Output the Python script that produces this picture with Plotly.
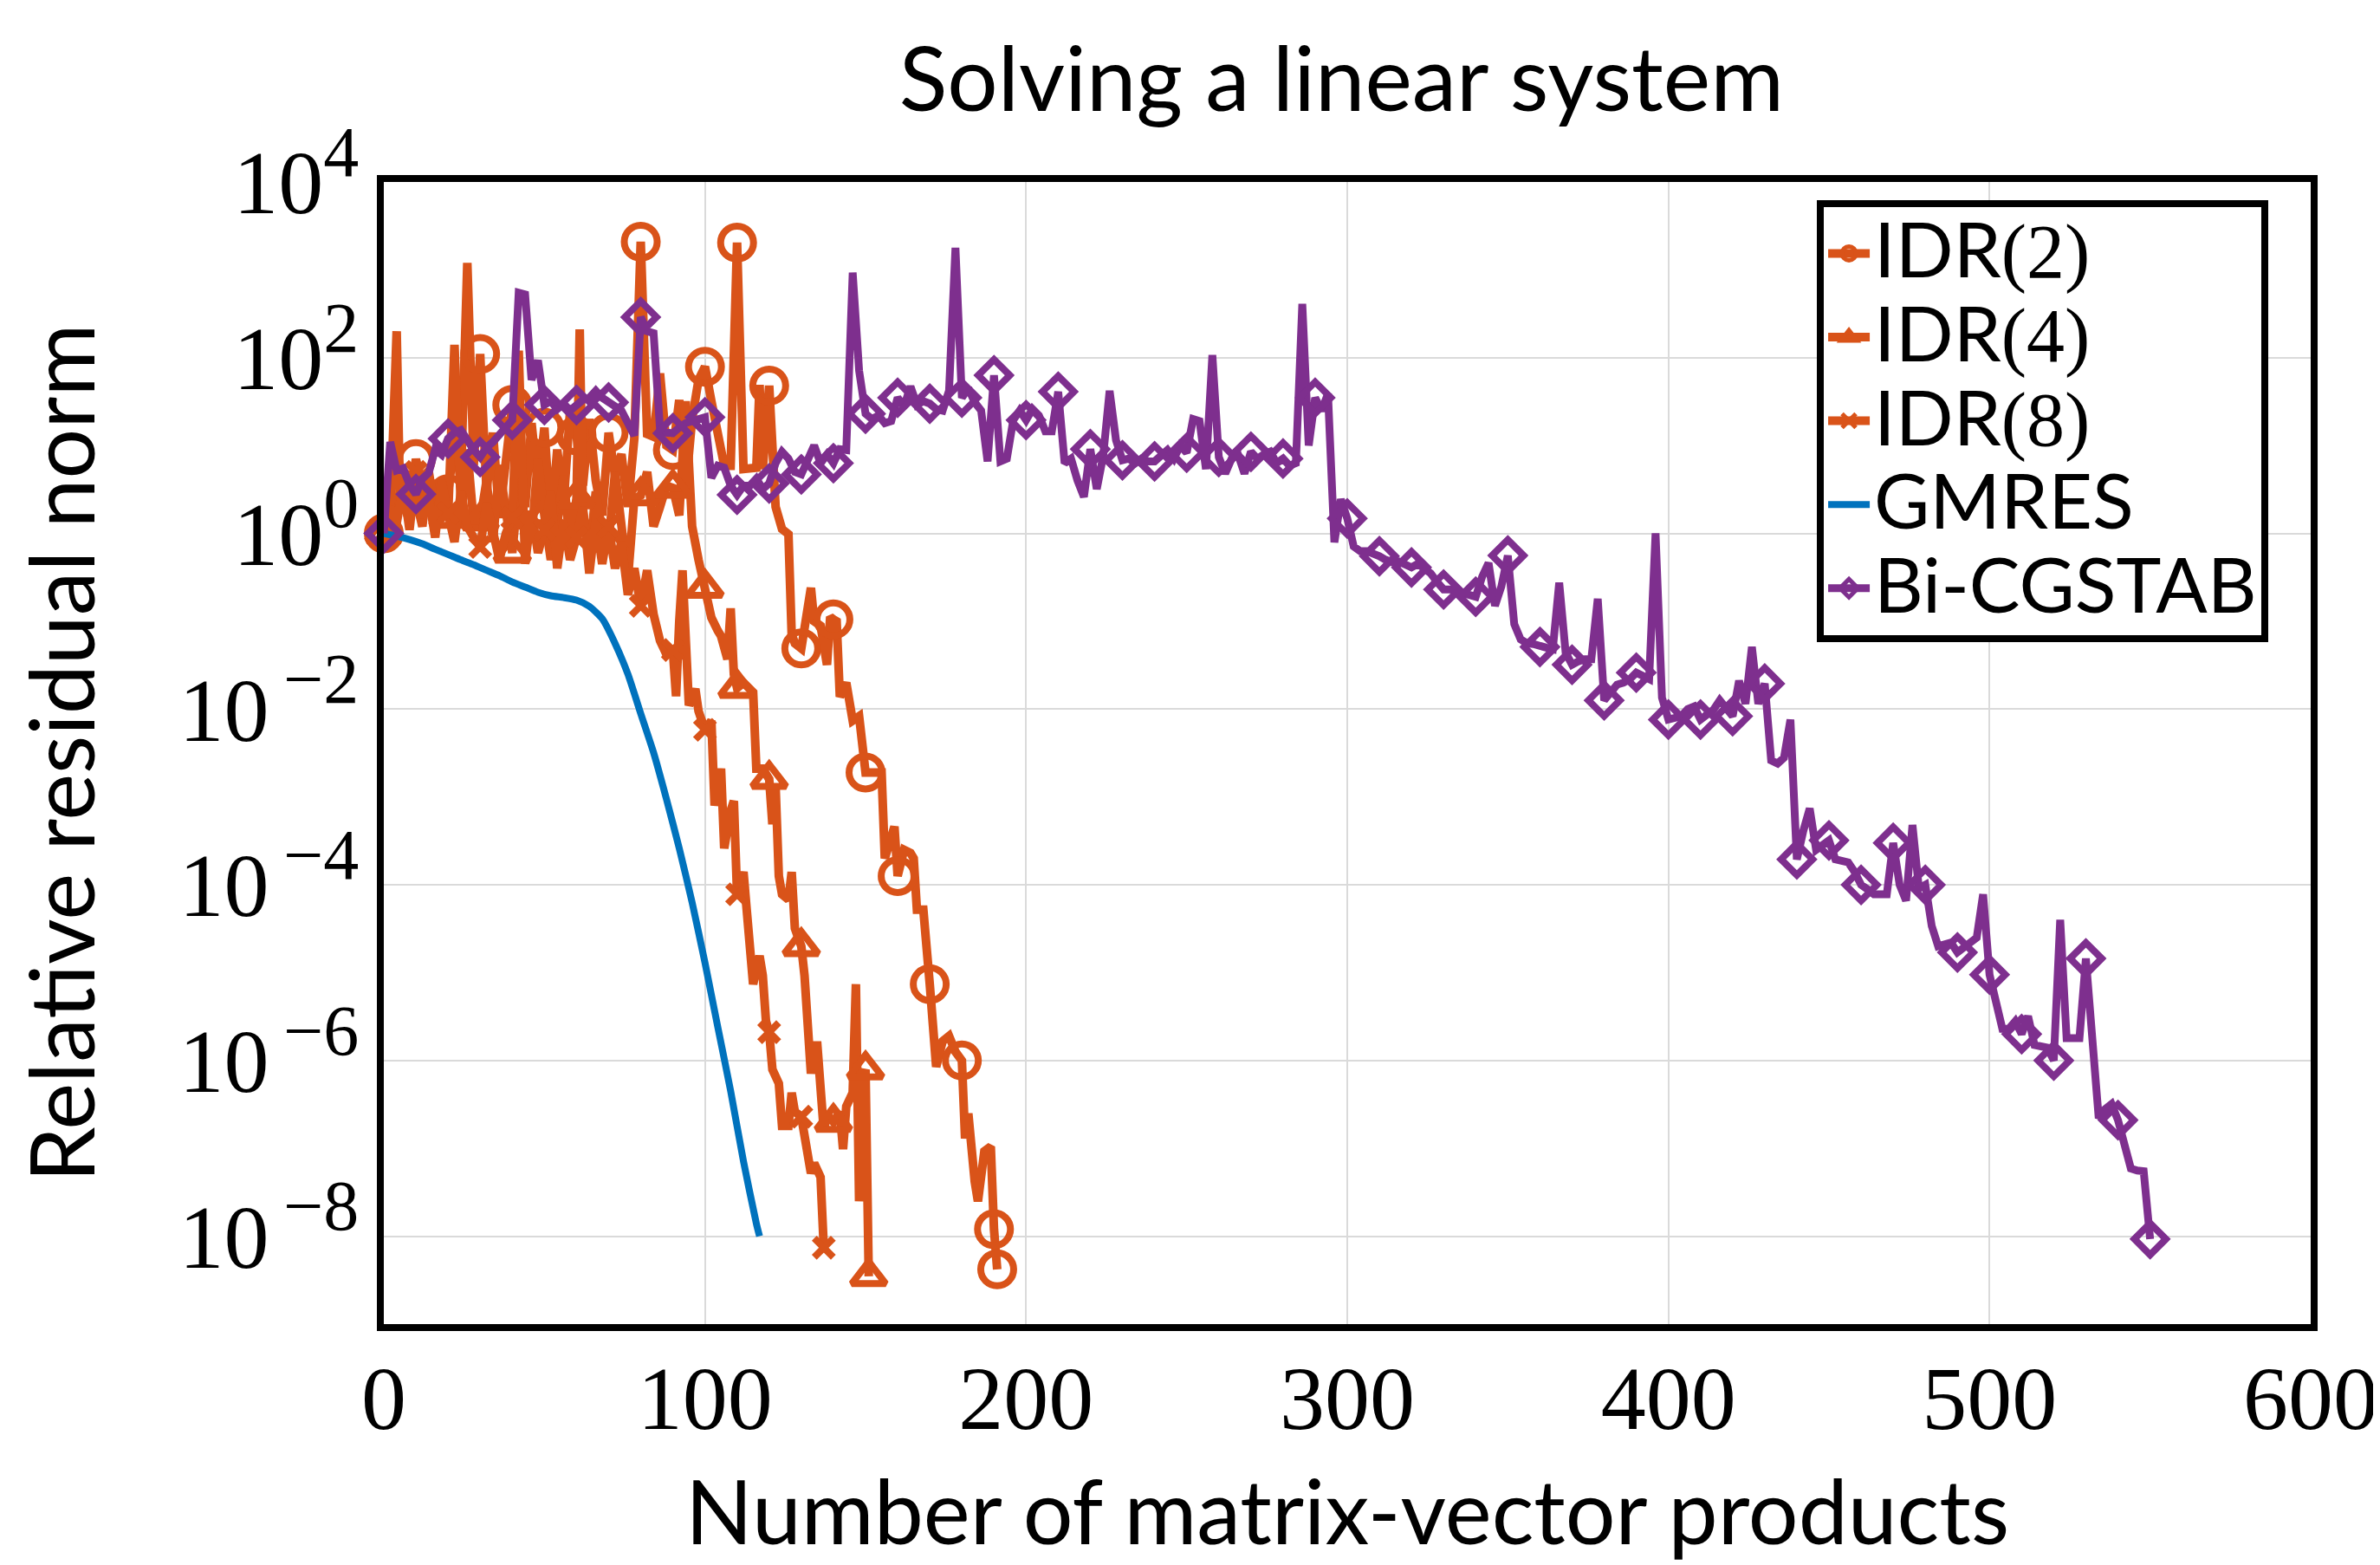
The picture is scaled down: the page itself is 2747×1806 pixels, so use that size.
import plotly.graph_objects as go

ORANGE = "#D95319"
BLUE = "#0072BD"
PURPLE = "#7E2F8E"
SANS = "Lato"
SERIF = "Liberation Serif"

# ---------------- data (relative residual norm vs. matrix-vector products) ----------------
idr2_x = [0, 2, 4, 6, 8, 10, 12, 14, 16, 18,
          20, 22, 24, 26, 28, 30, 32, 34, 36, 38,
          40, 42, 44, 46, 48, 50, 52, 54, 56, 58,
          60, 62, 64, 66, 68, 70, 72, 74, 76, 78,
          80,
          82, 84, 86, 88, 90, 92, 94, 96, 98, 100,
          102, 104, 106, 108, 110,
          112, 114, 116, 117, 118, 120,
          121, 122, 124, 126, 127, 128, 130,
          131, 133, 134, 136, 138, 139, 140,
          141, 142, 144, 146, 148, 150,
          152, 155, 156, 158, 159, 160,
          162, 164, 165, 166, 168, 170,
          172, 174, 176, 178, 180,
          181, 182, 184, 185, 187, 189, 190, 191]
idr2_y = [1.0, 3.0, 1.8, 5.0, 2.5, 7.0, 3.5, 1.6, 4.0, 2.0,
          2.8, 12, 4.0, 1200, 6.0, 110, 3.0, 14, 1.5, 8.0,
          29, 5.0, 2.0, 18, 3.5, 16, 1.2, 9.0, 2.2, 25,
          13, 3.5, 20, 4.0, 1.6, 14, 4.5, 8.0, 2.0, 12,
          2090,
          13.5, 12.6, 66, 10, 8.9, 33, 3.2, 20, 56, 79,
          32, 12.6, 5.9, 5.9, 2040,
          5.4, 5.6, 5.6, 49, 5.4, 48,
          5.0, 2.0, 1.12, 0.98, 0.071, 0.056, 0.049,
          0.078, 0.24, 0.1, 0.089, 0.032, 0.112, 0.105,
          0.1, 0.0138, 0.02, 0.0074, 0.0083, 0.0019,
          0.0019, 0.0019, 2.0e-4, 4.0e-4, 4.6e-4, 1.26e-4,
          2.5e-4, 2.3e-4, 2.0e-4, 5.2e-5, 5.2e-5, 7.4e-6,
          8.5e-7, 1.66e-6, 1.9e-6, 1.26e-6, 1.0e-6,
          1.3e-7, 2.5e-7, 4.2e-8, 2.5e-8, 9.3e-8, 1.05e-7, 1.2e-8, 4.2e-9]

idr4_x = [0, 2, 4, 5, 6, 8, 10, 12, 14, 16, 18,
          20, 22, 24, 26, 28, 30, 32, 34, 36, 38,
          40, 42, 44, 46, 48, 50, 52, 54, 56, 58,
          60, 61, 62, 64, 66, 68, 70, 72, 74, 76, 78,
          80, 82, 84, 86, 88, 90, 92, 94, 96, 98,
          100, 102, 104, 105, 107, 108, 109, 110,
          112, 114, 115, 116, 118, 120,
          121, 122, 123, 124, 126, 127, 128, 130,
          131, 133, 134, 135, 136, 137, 138, 140,
          142, 143, 144, 146, 147, 148, 149, 150, 151]
idr4_y = [1.0, 1.6, 200, 3.0, 2.2, 1.4, 2.5, 1.2, 5.0, 1.8, 3.2,
          1.5, 140, 2.0, 9.0, 1.3, 1.4, 4.0, 0.8, 6.0, 1.8,
          0.6, 3.5, 1.2, 0.9, 7.0, 1.6, 0.5, 1.3, 4.5, 0.7,
          2.5, 210, 1.8, 0.55, 3.0, 1.0, 0.8, 5.0, 1.5, 0.3, 2.5,
          2.7, 5.0, 1.2, 2.0, 3.5, 3.3, 1.6, 32, 1.2, 0.5,
          0.24, 0.11, 0.078, 0.068, 0.037, 0.14, 0.025, 0.0174,
          0.02, 0.0174, 0.0155, 0.0021, 0.0021, 0.0016,
          4.9e-4, 1.3e-3, 1.26e-4, 7.8e-5, 6.8e-5, 1.4e-4, 3.2e-5, 2.0e-5,
          9.3e-6, 7.1e-7, 1.48e-6, 1.48e-6, 6.3e-7, 1.6e-7, 2.4e-7, 2.0e-7,
          2.6e-7, 9.8e-8, 3.0e-7, 4.3e-7, 7.4e-6, 2.5e-8, 6.3e-7, 7.9e-7, 3.5e-9]

idr8_x = [0, 2, 4, 6, 8, 10, 12, 14, 16, 18,
          20, 22, 24, 26, 28, 30, 32, 34, 36, 38,
          40, 42, 43, 44, 46, 48, 50, 52, 54, 56, 58,
          60, 62, 64, 66, 68, 70, 72, 74, 76, 78,
          80, 82, 84, 86, 88, 90, 91, 92, 93, 95, 97, 98,
          100, 102, 103, 105, 106, 108, 109, 110,
          112, 113, 115, 117, 118, 119, 120,
          121, 123, 124, 126, 127, 128, 130,
          133, 134, 136, 137]
idr8_y = [1.0, 2.0, 1.3, 3.5, 1.1, 5.0, 1.5, 2.5, 0.9, 4.0,
          1.7, 0.8, 3.0, 1.2, 0.9, 0.7, 2.2, 1.0, 0.5, 1.0,
          1.5, 120, 2.0, 0.45, 1.8, 0.6, 1.1, 3.0, 0.4, 1.4, 0.5,
          0.9, 2.0, 0.35, 1.5, 0.45, 1.2, 0.4, 0.8, 0.2, 0.4,
          0.15, 0.38, 0.12, 0.06, 0.042, 0.047, 0.014, 0.1, 0.38, 0.011, 0.017, 0.0095,
          0.0058, 0.0074, 8.0e-4, 0.0021, 2.6e-4, 7.0e-4, 9.0e-4, 7.8e-5,
          1.4e-4, 5.2e-5, 7.4e-6, 1.55e-5, 9.3e-6, 2.8e-6, 2.1e-6,
          7.9e-7, 5.5e-7, 1.8e-7, 1.8e-7, 4.3e-7, 2.6e-7, 2.3e-7,
          5.2e-8, 6.8e-8, 4.7e-8, 7.4e-9]

gmres_x = [0, 4, 8, 12, 16, 20, 24, 28, 32, 36, 40, 44, 48, 52, 56, 60,
           64, 68, 72, 76, 80, 84, 88, 92, 96, 100, 104, 108, 112, 116, 117]
gmres_y = [1.0, 0.93, 0.85, 0.76, 0.66, 0.575, 0.5, 0.44, 0.38, 0.33, 0.28, 0.245,
           0.214, 0.195, 0.186, 0.174, 0.148, 0.107, 0.056, 0.025, 0.0089, 0.0032,
           9.5e-4, 2.6e-4, 6.3e-5, 1.3e-5, 2.4e-6, 4.5e-7, 7.1e-8, 1.4e-8, 1.0e-8]

bicg_y = [
    1.0, 11, 5.2, 5.5, 3.6, 2.8, 4.2, 4.9, 9.1, 7.9,                # 0-18
    12, 14, 15, 11, 8.9, 7.4, 9.5, 11, 13, 16,                      # 20-38
    19.5, 550, 525, 56, 93, 29, 32, 26, 30, 25,                     # 40-58
    29, 33, 35, 42, 35, 31, 28, 25, 18, 13,                         # 60-78
    290, 200, 190, 15.5, 14, 13.8, 16, 18, 19, 20,                  # 80-98
    21, 4.3, 5.9, 5.6, 3.5, 2.75, 3.5, 3.5, 4.2, 3.2,               # 100-118
    3.7, 6.3, 8.5, 7.1, 5.0, 4.7, 7.1, 10, 6.3, 7.9,                # 120-138
    6.3, 9.1, 8.9, 930, 71, 23, 20, 22, 18, 19,                     # 140-158
    35, 28, 47, 29, 32, 30, 26, 25, 42, 1780,                       # 160-178
    35, 45, 31, 25, 6.6, 63, 6.6, 7.1, 19.5, 25,                    # 180-198
    19.5, 26, 22, 14.5, 14.5, 41, 6.3, 7.1, 4.0, 2.6,               # 200-218
    9.1, 3.2, 7.6, 42, 11.5, 6.8, 7.1, 6.3, 7.1, 6.6,               # 220-238
    6.6, 7.9, 8.9, 7.1, 10, 8.3, 20, 19, 5.4, 107,                  # 240-258
    7.4, 4.8, 7.1, 7.9, 4.8, 8.5, 7.1, 7.9, 8.5, 6.3,               # 260-278
    7.1, 5.9, 6.3, 410, 10, 35, 25, 39, 0.79, 2.45,                 # 280-298
    1.48, 0.71, 0.63, 0.63, 0.6, 0.55, 0.5, 0.47, 0.48, 0.44,       # 300-318
    0.41, 0.45, 0.4, 0.35, 0.28, 0.23, 0.23, 0.22, 0.21, 0.2,       # 320-338
    0.19, 0.32, 0.46, 0.15, 0.25, 0.56, 0.093, 0.062, 0.056, 0.055, # 340-358
    0.051, 0.05, 0.048, 0.275, 0.044, 0.032, 0.035, 0.037, 0.037, 0.18,   # 360-378
    0.0126, 0.016, 0.019, 0.02, 0.022, 0.026, 0.024, 0.022, 1.0, 0.0135,  # 380-398
    0.0076, 0.0079, 0.0083, 0.01, 0.0107, 0.0076, 0.0089, 0.0098, 0.0126, 0.01,  # 400-418
    0.0083, 0.021, 0.0115, 0.051, 0.0115, 0.0195, 0.0026, 0.0024, 0.0028, 0.0076,  # 420-438
    1.95e-4, 4.1e-4, 7.4e-4, 2.5e-4, 2.8e-4, 3.2e-4, 1.95e-4, 1.9e-4, 1.8e-4, 1.4e-4,  # 440-458
    1.0e-4, 8.9e-5, 7.8e-5, 7.8e-5, 7.8e-5, 3.0e-4, 1.0e-4, 6.6e-5, 4.8e-4, 9.1e-5,   # 460-478
    1.0e-4, 3.4e-5, 2.0e-5, 2.1e-5, 2.2e-5, 1.7e-5, 2.0e-5, 2.2e-5, 2.5e-5, 7.8e-5,   # 480-498
    9.5e-6, 5.0e-6, 2.3e-6, 2.3e-6, 2.8e-6, 2.0e-6, 3.2e-6, 1.5e-6, 1.45e-6, 1.4e-6, # 500-518
    1.0e-6, 4.0e-5, 1.8e-6, 1.8e-6, 1.8e-6, 1.45e-5, 1.5e-6, 2.2e-7, 2.8e-7, 3.2e-7, # 520-538
    2.1e-7, 1.0e-7, 5.9e-8, 5.6e-8, 5.5e-8,                                           # 540-548
    9.3e-9,                                                                           # 550
]
bicg_x = list(range(0, 551, 2))
assert len(bicg_x) == len(bicg_y), (len(bicg_x), len(bicg_y))
assert len(idr2_x) == len(idr2_y), (len(idr2_x), len(idr2_y))
assert len(idr4_x) == len(idr4_y), (len(idr4_x), len(idr4_y))
assert len(idr8_x) == len(idr8_y), (len(idr8_x), len(idr8_y))
assert len(gmres_x) == len(gmres_y)

x_ticks = [0, 100, 200, 300, 400, 500, 600]
y_ticks = [1e-8, 1e-6, 1e-4, 1e-2, 1e0, 1e2, 1e4]
y_exps = ["\u2009−8", "\u2009−6", "\u2009−4", "\u2009−2", "0", "2", "4"]
y_ticktext = ["10<sup><span style=\"font-size:82px\">%s</span></sup>" % e for e in y_exps]

LEG = 88  # px size of legend label glyphs


def leg_label(sans_part, serif_part=""):
    s = "<span style=\"font-size:%dpx\">%s</span>" % (LEG, sans_part)
    if serif_part:
        s += "<span style=\"font-size:%dpx;font-family:'%s'\">%s</span>" % (LEG, SERIF, serif_part)
    return s


series = [
    (leg_label("IDR", "(2)"), idr2_x, idr2_y, ORANGE, "circle-open", 38, 10),
    (leg_label("IDR", "(4)"), idr4_x, idr4_y, ORANGE, "triangle-up-open", 34, 10),
    (leg_label("IDR", "(8)"), idr8_x, idr8_y, ORANGE, "x-thin-open", 22, 10),
    (leg_label("GMRES"), gmres_x, gmres_y, BLUE, None, 0, 8),
    (leg_label("Bi-CGSTAB"), bicg_x, bicg_y, PURPLE, "diamond-open", 28, 9),
]
MLW = 8  # marker outline width

fig = go.Figure()
for name, xs, ys, col, sym, msize, lw in series:
    fig.add_trace(go.Scatter(x=xs, y=ys, mode="lines", showlegend=False,
                             line=dict(color=col, width=lw,
                                       shape="spline" if sym is None else "linear",
                                       smoothing=0.6),
                             cliponaxis=False, hoverinfo="skip"))
    if sym is not None:
        idx = [i for i, v in enumerate(xs) if v % 10 == 0 or i == len(xs) - 1]
        fig.add_trace(go.Scatter(x=[xs[i] for i in idx], y=[ys[i] for i in idx],
                                 mode="markers", showlegend=False, cliponaxis=False,
                                 marker=dict(symbol=sym, size=msize, color=col,
                                             line=dict(color=col, width=MLW)),
                                 hoverinfo="skip"))

# legend entries
for name, xs, ys, col, sym, msize, lw in series:
    if sym is None:
        fig.add_trace(go.Scatter(x=[None], y=[None], mode="lines", name=name,
                                 line=dict(color=col, width=lw)))
    else:
        fig.add_trace(go.Scatter(x=[None], y=[None], mode="lines+markers", name=name,
                                 line=dict(color=col, width=lw),
                                 marker=dict(symbol=sym, size=msize, color=col,
                                             line=dict(color=col, width=MLW))))

fig.update_layout(
    width=2747, height=1806,
    margin=dict(l=435, r=88, t=202, b=286),
    paper_bgcolor="white", plot_bgcolor="white",
    title=dict(text="Solving a linear system", x=0.497, xref="paper", xanchor="center",
               y=1 - 84 / 1806, yref="container", yanchor="middle",
               font=dict(family=SANS, size=103, color="black")),
    legend=dict(x=0.978, y=0.984, xanchor="right", yanchor="top",
                bgcolor="white", bordercolor="black", borderwidth=8,
                font=dict(family=SANS, size=72, color="black"),
                itemwidth=48, tracegroupgap=0),
    showlegend=True,
)
fig.update_xaxes(range=[0, 600], tickvals=x_ticks, ticktext=[str(v) for v in x_ticks],
                 showgrid=True, gridcolor="#dadada", gridwidth=2, zeroline=False,
                 showline=True, mirror=True, linecolor="black", linewidth=8,
                 ticks="", ticklabelstandoff=-12,
                 tickfont=dict(family=SERIF, size=104, color="black"),
                 title=dict(text="Number of matrix-vector products", standoff=44,
                            font=dict(family=SANS, size=102, color="black")),
                 automargin=False)
fig.update_yaxes(type="log", range=[-9, 4], tickvals=y_ticks, ticktext=y_ticktext,
                 showgrid=True, gridcolor="#dadada", gridwidth=2, zeroline=False,
                 showline=True, mirror=True, linecolor="black", linewidth=8,
                 ticks="", tickfont=dict(family=SERIF, size=104, color="black"),
                 title=dict(text="Relative residual norm", standoff=72,
                            font=dict(family=SANS, size=102, color="black")),
                 automargin=False)

fig.write_html("out.html")
